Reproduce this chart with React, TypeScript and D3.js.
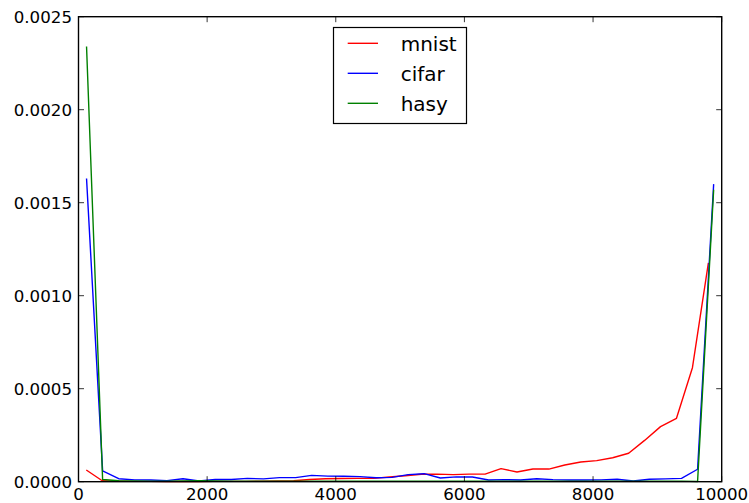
import React from "react";
import * as d3 from "d3";

const mnistX = [121, 369, 617, 865, 1113, 1361, 1609, 1857, 2105, 2353, 2601, 2849, 3097, 3345, 3593, 3841, 4089, 4337, 4585, 4833, 5081, 5329, 5577, 5825, 6073, 6321, 6569, 6817, 7065, 7313, 7561, 7809, 8057, 8305, 8553, 8801, 9049, 9297, 9545, 9793];
const mnistY = [0.000063, 0.000005, 0.000003, 0.000002, 0.000002, 0.000001, 0.000002, 0.000001, 0.000002, 0.000002, 0.000002, 0.000003, 0.000004, 0.000005, 0.000012, 0.000016, 0.000017, 0.000018, 0.000018, 0.000025, 0.000032, 0.00004, 0.000041, 0.000038, 0.000041, 0.000041, 0.00007, 0.000052, 0.000068, 0.000068, 0.00009, 0.000106, 0.000113, 0.000129, 0.000153, 0.000222, 0.000296, 0.000341, 0.000613, 0.001176];

const gridX = [125, 375, 625, 875, 1125, 1375, 1625, 1875, 2125, 2375, 2625, 2875, 3125, 3375, 3625, 3875, 4125, 4375, 4625, 4875, 5125, 5375, 5625, 5875, 6125, 6375, 6625, 6875, 7125, 7375, 7625, 7875, 8125, 8375, 8625, 8875, 9125, 9375, 9625, 9875];
const cifarY = [0.00163, 0.000058, 0.000016, 0.00001, 0.000009, 0.000006, 0.000016, 0.000004, 0.000012, 0.000012, 0.000018, 0.000015, 0.000022, 0.000022, 0.000034, 0.00003, 0.000029, 0.000027, 0.000021, 0.000023, 0.000038, 0.000043, 0.00002, 0.000026, 0.000025, 0.000009, 0.000011, 0.000009, 0.000016, 0.000011, 0.000009, 0.000009, 0.00001, 0.000013, 0.000004, 0.000013, 0.000015, 0.000018, 0.000067, 0.0016];
const hasyY = [0.00234, 0.000012, 0.000005, 0.000004, 0.000003, 0.000003, 0.000004, 0.000006, 0.000004, 0.000003, 0.000003, 0.000003, 0.000003, 0.000003, 0.000003, 0.000003, 0.000003, 0.000003, 0.000003, 0.000003, 0.000003, 0.000003, 0.000003, 0.000003, 0.000003, 0.000003, 0.000003, 0.000003, 0.000003, 0.000003, 0.000003, 0.000003, 0.000003, 0.000003, 0.000003, 0.000003, 0.000003, 0.000003, 0.000001, 0.00157];

const seriesNames = ["mnist", "cifar", "hasy"];
const seriesColors = ["#ff0000", "#0000ff", "#008000"];
const xTicks = [0, 2000, 4000, 6000, 8000, 10000];
const yTicks = [0, 0.0005, 0.001, 0.0015, 0.002, 0.0025];

const W = 749, H = 503;
const L = 78.5, R = 721.7, T = 16.7, B = 481.7;
const FONT = "'DejaVu Sans', sans-serif";
const FS = 16.67;
const LFS = 20;

export default function App() {
  const x = d3.scaleLinear().domain([0, 10000]).range([L, R]);
  const y = d3.scaleLinear().domain([0, 0.0025]).range([B, T]);
  const line = d3.line<[number, number]>().x(d => x(d[0])).y(d => y(d[1]));
  const series: [number, number][][] = [
    mnistX.map((v, i) => [v, mnistY[i]]),
    gridX.map((v, i) => [v, cifarY[i]]),
    gridX.map((v, i) => [v, hasyY[i]]),
  ];
  const tl = 5.5;
  const lgX = 333.5, lgY = 27.5, lgW = 133, lgH = 96;
  return (
    <svg width={W} height={H} style={{ position: "absolute", left: 0, top: 0, background: "#fff" }} fontFamily={FONT}>
      <rect x={0} y={0} width={W} height={H} fill="#fff" />
      {series.map((s, i) => (
        <path key={i} d={line(s) || ""} fill="none" stroke={seriesColors[i]} strokeWidth={1.39} strokeLinejoin="round" />
      ))}
      <rect x={L} y={T} width={R - L} height={B - T} fill="none" stroke="#000" strokeWidth={1.39} />
      {xTicks.map(t => (
        <g key={"x" + t}>
          <line x1={x(t)} x2={x(t)} y1={B} y2={B - tl} stroke="#000" strokeWidth={0.8} />
          <line x1={x(t)} x2={x(t)} y1={T} y2={T + tl} stroke="#000" strokeWidth={0.8} />
          <text x={x(t)} y={500} fontSize={FS} textAnchor="middle" fill="#000">{String(t)}</text>
        </g>
      ))}
      {yTicks.map(t => (
        <g key={"y" + t}>
          <line x1={L} x2={L + tl} y1={y(t)} y2={y(t)} stroke="#000" strokeWidth={0.8} />
          <line x1={R} x2={R - tl} y1={y(t)} y2={y(t)} stroke="#000" strokeWidth={0.8} />
          <text x={L - 6.5} y={y(t) + 6} fontSize={FS} textAnchor="end" fill="#000">{d3.format(".4f")(t)}</text>
        </g>
      ))}
      <rect x={lgX} y={lgY} width={lgW} height={lgH} fill="#fff" stroke="#000" strokeWidth={1.2} />
      {seriesNames.map((n, i) => (
        <g key={n}>
          <line x1={347.7} x2={378} y1={43.3 + i * 30} y2={43.3 + i * 30} stroke={seriesColors[i]} strokeWidth={1.39} />
          <text x={400.7} y={43.3 + i * 30 + 7.4} fontSize={LFS} fill="#000">{n}</text>
        </g>
      ))}
    </svg>
  );
}
